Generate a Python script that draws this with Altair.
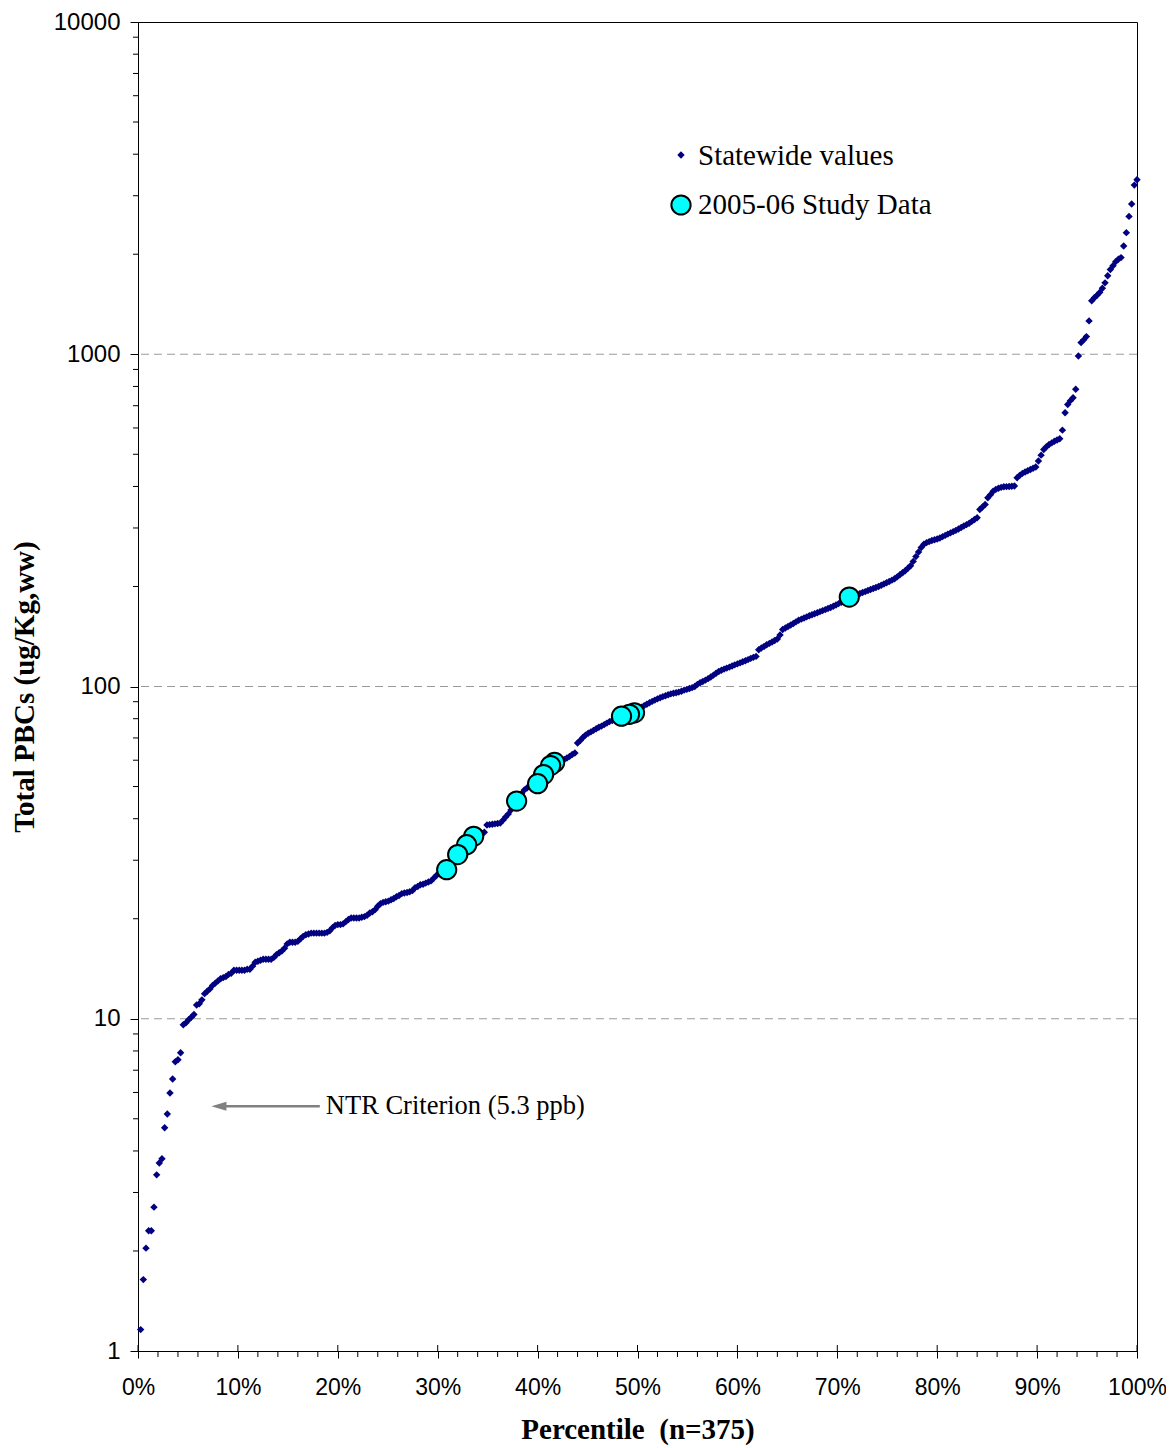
import altair as alt
import pandas as pd

# ---- Data ----
statewide_values = [
    1.16, 1.64, 2.04, 2.30, 2.30, 2.71, 3.39, 3.68, 3.79, 4.70, 5.17, 5.98, 6.59, 7.42, 7.53, 7.90, 9.59, 9.72, 9.93, 10.1, 10.3, 11.0, 11.1, 11.4, 11.9,
    12.1, 12.3, 12.6, 12.8, 13.0, 13.2, 13.3, 13.4, 13.6, 13.7, 14.0, 14.0, 14.0, 14.0, 14.0, 14.1, 14.1, 14.4, 14.8, 14.9, 15.0, 15.1, 15.1, 15.1, 15.1,
    15.3, 15.6, 15.8, 16.0, 16.3, 16.8, 17.0, 17.0, 17.0, 17.1, 17.4, 17.7, 17.9, 18.0, 18.1, 18.1, 18.1, 18.1, 18.1, 18.1, 18.2, 18.4, 18.8, 19.1, 19.2,
    19.2, 19.3, 19.6, 19.9, 20.1, 20.1, 20.1, 20.1, 20.2, 20.3, 20.5, 20.8, 21.0, 21.3, 21.8, 22.2, 22.4, 22.5, 22.6, 22.8, 23.0, 23.3, 23.5, 23.8, 23.9,
    24.0, 24.1, 24.3, 24.8, 25.0, 25.3, 25.4, 25.6, 25.8, 26.0, 26.5, 27.0, 27.3, 27.6, 27.9, 28.1, 29.0, 29.8, 30.6, 31.2, 32.0, 32.8, 33.4, 34.2, 34.8,
    35.4, 35.8, 36.0, 36.2, 36.4, 38.3, 38.4, 38.5, 38.6, 38.7, 38.8, 39.6, 40.5, 41.3, 42.5, 43.8, 45.0, 46.3, 47.6, 48.8, 49.5, 50.2, 51.0, 51.8, 52.6,
    53.5, 54.3, 55.2, 56.2, 57.2, 57.8, 58.5, 59.1, 59.7, 60.3, 60.9, 61.6, 62.4, 63.1, 67.6, 68.8, 70.2, 71.4, 72.3, 73.0, 73.8, 74.6, 75.4, 76.0, 76.8,
    77.6, 78.4, 79.0, 79.6, 80.2, 80.8, 81.4, 81.9, 82.4, 82.9, 83.3, 84.4, 85.5, 86.6, 87.6, 88.4, 89.3, 90.2, 91.0, 91.8, 92.5, 93.2, 93.8, 94.4, 95.0,
    95.4, 95.8, 96.2, 96.8, 97.5, 98.0, 98.6, 99.2, 100.0, 101.5, 102.6, 103.5, 104.5, 105.6, 106.8, 108.2, 109.6, 111.0, 111.9, 112.8, 113.6, 114.4, 115.3, 116.2, 117.0,
    117.8, 118.7, 119.6, 120.5, 121.5, 122.4, 123.2, 129.0, 130.6, 132.0, 133.5, 134.8, 136.2, 137.6, 139.0, 143.0, 148.5, 150.0, 151.6, 153.2, 154.8, 156.5, 158.2, 159.5, 160.8,
    162.0, 163.2, 164.4, 165.6, 166.8, 168.0, 169.2, 170.4, 171.6, 172.8, 174.4, 176.0, 177.6, 179.4, 181.2, 183.4, 185.8, 187.0, 188.2, 189.4, 190.6, 191.8, 193.0, 194.4, 195.8,
    197.2, 198.6, 200.0, 201.8, 203.5, 205.2, 207.0, 209.0, 211.0, 213.8, 217.0, 220.0, 223.0, 227.0, 231.0, 238.0, 246.0, 254.0, 262.0, 268.0, 271.0, 273.0, 275.0, 276.5, 278.0,
    280.0, 282.5, 285.0, 287.5, 290.0, 292.5, 295.0, 298.0, 301.0, 304.0, 307.0, 310.0, 314.0, 318.0, 322.0, 341.0, 347.0, 353.0, 370.0, 378.0, 387.0, 392.0, 395.0, 397.5, 399.0,
    399.5, 400.0, 400.5, 401.5, 425.0, 432.0, 438.0, 442.0, 446.0, 450.0, 454.0, 458.0, 477.0, 497.0, 517.0, 527.0, 535.0, 541.0, 547.0, 552.0, 557.0, 591.0, 667.0, 706.0, 725.0,
    740.0, 785.0, 988.0, 1084.0, 1105.0, 1130.0, 1260.0, 1449.0, 1480.0, 1506.0, 1535.0, 1580.0, 1640.0, 1722.0, 1800.0, 1846.0, 1900.0, 1932.0, 1954.0, 2118.0, 2323.0, 2600.0, 2832.0, 3229.0, 3350.0,
]

study_pct = [30.9, 32.0, 32.9, 33.6, 37.9, 40.0, 40.6, 41.3, 41.7, 48.4, 49.2, 49.7, 71.2]
study_values = [28.1, 31.2, 33.4, 35.4, 45.2, 51.0, 54.3, 57.8, 59.1, 81.4, 82.5, 83.3, 185.8]

grid_values = [10, 100, 1000]
y_major = [1, 10, 100, 1000, 10000]
y_minor = [m * 10 ** k for k in range(4) for m in range(2, 10)]
x_major = list(range(0, 101, 10))
x_minor = [p for p in range(2, 100, 2) if p % 10 != 0]

legend_labels = ["Statewide values", "2005-06 Study Data"]
ntr_label = "NTR Criterion (5.3 ppb)"
arrow_pct = [8.1, 18.2]
arrow_value = 5.45

n = len(statewide_values)
state_df = pd.DataFrame({
    "pct": [100.0 * (k + 1) / n for k in range(n)],
    "val": statewide_values,
})
study_df = pd.DataFrame({"pct": study_pct, "val": study_values}).sort_values(
    "pct", ascending=False)

W, H = 999, 1329
xscale = alt.Scale(domain=[0, 100], nice=False, zero=False)
yscale = alt.Scale(type="log", domain=[1, 10000], nice=False)

xaxis = alt.Axis(values=x_major, labelExpr="datum.value + '%'",
                 title="Percentile\u00a0 (n=375)", tickSize=7, labelFontSize=23,
                 labelPadding=18, titlePadding=16, grid=False,
                 labelFlush=False, labelBound=False, labelOverlap=False)
yaxis = alt.Axis(values=y_major, format="d", title="Total PBCs (ug/Kg,ww)",
                 tickSize=8, labelPadding=10, titlePadding=14, grid=False,
                 labelFlush=False, labelBound=False, labelOverlap=False)


def X(field):
    return alt.X(field, scale=xscale, axis=xaxis)


def Y(field):
    return alt.Y(field, scale=yscale, axis=yaxis)


grid = alt.Chart(pd.DataFrame({"v": grid_values})).mark_rule(
    color="#9a9a9a", strokeDash=[8, 5], strokeWidth=1
).encode(y=Y("v:Q"))

y_minor_ticks = alt.Chart(pd.DataFrame({"v": y_minor})).mark_rule(
    color="black", strokeWidth=1
).encode(y=Y("v:Q"), x=alt.value(-5), x2=alt.value(0))

x_minor_ticks = alt.Chart(pd.DataFrame({"p": x_minor})).mark_rule(
    color="black", strokeWidth=1
).encode(x=X("p:Q"), y=alt.value(H), y2=alt.value(H + 6))

x_major_up = alt.Chart(pd.DataFrame({"p": x_major})).mark_rule(
    color="black", strokeWidth=1
).encode(x=X("p:Q"), y=alt.value(H - 6), y2=alt.value(H))

statewide = alt.Chart(state_df).mark_point(
    shape="diamond", filled=True, color="#000080", size=55, opacity=1
).encode(x=X("pct:Q"), y=Y("val:Q"))

study = alt.Chart(study_df).mark_point(
    shape="circle", filled=True, fill="#00FFFF", stroke="black", strokeWidth=2,
    size=370, opacity=1, fillOpacity=1
).encode(x=X("pct:Q"), y=Y("val:Q"))

arrow_df = pd.DataFrame({"x1": [arrow_pct[0]], "x2": [arrow_pct[1]], "v": [arrow_value],
                         "label": [ntr_label]})
arrow_line = alt.Chart(arrow_df).mark_rule(color="#808080", strokeWidth=2.5).encode(
    x=X("x1:Q"), x2="x2:Q", y=Y("v:Q"))
arrow_head = alt.Chart(arrow_df).mark_point(
    shape="M-1,0L1,-0.6L1,0.6Z", filled=True, color="#808080", size=225, opacity=1
).encode(x=X("x1:Q"), y=Y("v:Q"))
ntr_text = alt.Chart(arrow_df).mark_text(
    align="left", baseline="middle", dx=6, font="Liberation Serif", fontSize=26.5, color="black"
).encode(x=X("x2:Q"), y=Y("v:Q"), text="label:N")

leg_df = pd.DataFrame({"label": legend_labels})
leg_diamond = alt.Chart(leg_df.iloc[[0]]).mark_point(
    shape="diamond", filled=True, color="#000080", size=55, opacity=1
).encode(x=alt.value(543), y=alt.value(133))
leg_circle = alt.Chart(leg_df.iloc[[1]]).mark_point(
    shape="circle", filled=True, fill="#00FFFF", stroke="black", strokeWidth=2,
    size=370, opacity=1
).encode(x=alt.value(543), y=alt.value(183))
leg_text1 = alt.Chart(leg_df.iloc[[0]]).mark_text(
    align="left", baseline="middle", font="Liberation Serif", fontSize=29, color="black"
).encode(x=alt.value(560), y=alt.value(134), text="label:N")
leg_text2 = alt.Chart(leg_df.iloc[[1]]).mark_text(
    align="left", baseline="middle", font="Liberation Serif", fontSize=29, color="black"
).encode(x=alt.value(560), y=alt.value(183), text="label:N")

chart = alt.layer(
    grid, y_minor_ticks, x_minor_ticks, x_major_up, statewide, study,
    arrow_line, arrow_head, ntr_text, leg_diamond, leg_circle, leg_text1, leg_text2
).properties(
    width=W, height=H,
    autosize=alt.AutoSizeParams(type="none"),
    padding={"left": 130, "top": 14, "right": 29, "bottom": 98},
).configure_view(
    stroke="black", strokeWidth=1
).configure_axis(
    domainColor="black", tickColor="black", domainWidth=1, tickWidth=1,
    labelFont="Liberation Sans", labelFontSize=24, labelColor="black",
    titleFont="Liberation Serif", titleFontSize=29, titleFontWeight="bold", titleColor="black",
)

chart.save("out.html", embed_options={"renderer": "svg", "actions": False})
